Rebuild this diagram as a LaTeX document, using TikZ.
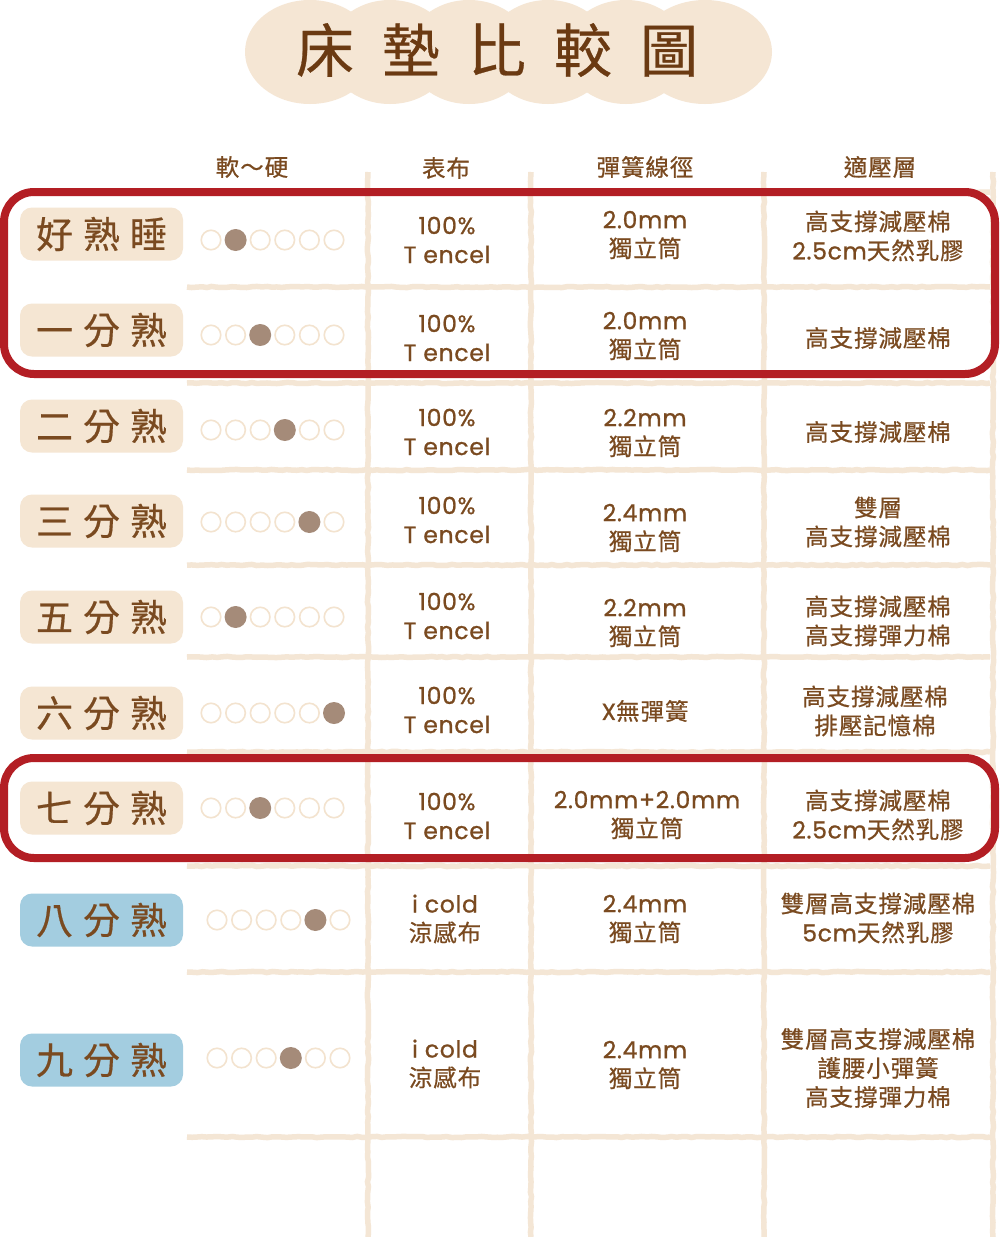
\documentclass[tikz,border=0pt]{standalone}
\usepackage{fontspec}
\usetikzlibrary{decorations.pathmorphing}
\newfontfamily\cjk{Noto Sans CJK TC}[FakeBold=0.5]
\newfontfamily\cjkc{Noto Sans CJK TC}[FakeBold=0.6,LetterSpace=4]
\newfontfamily\latn{Poppins}[FakeBold=0.9,LetterSpace=3]
\definecolor{txt}{HTML}{7A4A20}
\definecolor{ttl}{HTML}{6B3A12}
\definecolor{boxbeige}{HTML}{F5E6D3}
\definecolor{boxblue}{HTML}{A3CDE0}
\definecolor{cloudc}{HTML}{F5E6D4}
\definecolor{gridc}{HTML}{F4E6D5}
\definecolor{ringc}{HTML}{F3E3CF}
\definecolor{dotc}{HTML}{A58B79}
\definecolor{redc}{HTML}{B31E24}
\newcommand\ratingrow[4]{%
  \foreach \i in {1,...,6}{%
    \ifnum\i=#4\relax
      \node[dotfull] (#1-\i) at ({#2+(\i-1)*24.6},#3) {};
    \else
      \node[dotempty] (#1-\i) at ({#2+(\i-1)*24.6},#3) {};
    \fi}}
\tikzset{
  gridline/.style={draw=gridc, line width=5.5pt, decorate,
     decoration={random steps, segment length=5pt, amplitude=0.6pt}},
  lblbox/.style={rounded corners=12pt, minimum width=163pt, minimum height=53pt, inner sep=0pt, text=txt,
     font=\cjk\fontsize{37}{40}\selectfont},
  lblb/.style={lblbox, fill=boxbeige},
  lblu/.style={lblbox, fill=boxblue},
  dotfull/.style={circle, fill=dotc, minimum size=22pt, inner sep=0pt},
  dotempty/.style={circle, draw=ringc, line width=1.6pt, minimum size=19.5pt, inner sep=0pt},
  cell/.style={align=center, inner sep=0pt, text=txt, font=\cjkc\fontsize{23.5}{29}\selectfont},
  head/.style={inner sep=0pt, text=txt, font=\cjkc\fontsize{23.5}{28}\selectfont},
  redbox/.style={draw=redc, line width=8pt, rounded corners=30pt},
  cloud/.style={fill=cloudc},
}
\begin{document}
\begin{tikzpicture}[x=1pt,y=-1pt]
\useasboundingbox[fill=white] (0,0) rectangle (1000,1237);
% title cloud
\foreach \cx/\rx in {310/65, 390/62, 469/62, 548/62, 626/62, 705/67}{
  \fill[cloud] (\cx,52) ellipse [x radius=\rx pt, y radius=52pt];}
\node[inner sep=0pt, text=ttl, font=\cjk\fontsize{58}{64}\selectfont] (title) at (497,50)
  {床\hspace{28pt}墊\hspace{28pt}比\hspace{28pt}較\hspace{28pt}圖};
% grid
\foreach \gx in {368,531,764,993}{
  \draw[gridline] (\gx,172) -- (\gx,1237);}
\foreach \gy in {192,287,383,470,565,657,752,866,972,1137}{
  \draw[gridline] (187,\gy) -- (990,\gy);}
% headers
\node[head] (h1) at (252,167) {軟～硬};
\node[head] (h2) at (446,168) {表布};
\node[head] (h3) at (645,167) {彈簧線徑};
\node[head] (h4) at (880,167) {適壓層};
% labels
\node[lblb] (l1) at (101.5,234) {好\hspace{10pt}熟\hspace{10pt}睡};
\node[lblb] (l2) at (101.5,330) {一\hspace{10pt}分\hspace{10pt}熟};
\node[lblb] (l3) at (101.5,426) {二\hspace{10pt}分\hspace{10pt}熟};
\node[lblb] (l4) at (101.5,521) {三\hspace{10pt}分\hspace{10pt}熟};
\node[lblb] (l5) at (101.5,617) {五\hspace{10pt}分\hspace{10pt}熟};
\node[lblb] (l6) at (101.5,713) {六\hspace{10pt}分\hspace{10pt}熟};
\node[lblb] (l7) at (101.5,808) {七\hspace{10pt}分\hspace{10pt}熟};
\node[lblu] (l8) at (101.5,920) {八\hspace{10pt}分\hspace{10pt}熟};
\node[lblu] (l9) at (101.5,1060) {九\hspace{10pt}分\hspace{10pt}熟};
% ratings
\ratingrow{r1}{211}{240}{2}
\ratingrow{r2}{211}{335}{3}
\ratingrow{r3}{211}{430}{4}
\ratingrow{r4}{211}{522}{5}
\ratingrow{r5}{211}{617}{2}
\ratingrow{r6}{211}{713}{6}
\ratingrow{r7}{211}{808}{3}
\ratingrow{r8}{217}{920}{5}
\ratingrow{r9}{217}{1058}{4}
% cells: fabric
\node[cell] (a1) at (447,240) {{\latn 100\%}\\{\latn T encel}};
\node[cell] (a2) at (447,338) {{\latn 100\%}\\{\latn T encel}};
\node[cell] (a3) at (447,432) {{\latn 100\%}\\{\latn T encel}};
\node[cell] (a4) at (447,520) {{\latn 100\%}\\{\latn T encel}};
\node[cell] (a5) at (447,616) {{\latn 100\%}\\{\latn T encel}};
\node[cell] (a6) at (447,710) {{\latn 100\%}\\{\latn T encel}};
\node[cell] (a7) at (447,816) {{\latn 100\%}\\{\latn T encel}};
\node[cell] (a8) at (445,919) {{\latn i cold}\\涼感布};
\node[cell] (a9) at (445,1064) {{\latn i cold}\\涼感布};
% cells: spring
\node[cell] (b1) at (645,235) {{\latn 2.0mm}\\獨立筒};
\node[cell] (b2) at (645,336) {{\latn 2.0mm}\\獨立筒};
\node[cell] (b3) at (645,433) {{\latn 2.2mm}\\獨立筒};
\node[cell] (b4) at (645,528) {{\latn 2.4mm}\\獨立筒};
\node[cell] (b5) at (645,623) {{\latn 2.2mm}\\獨立筒};
\node[cell] (b6) at (645,711) {{\latn X}無彈簧};
\node[cell] (b7) at (647,815) {{\latn 2.0mm+2.0mm}\\獨立筒};
\node[cell] (b8) at (645,919) {{\latn 2.4mm}\\獨立筒};
\node[cell] (b9) at (645,1065) {{\latn 2.4mm}\\獨立筒};
% cells: comfort layer
\node[cell] (c1) at (878,236) {高支撐減壓棉\\{\latn 2.5cm}天然乳膠};
\node[cell] (c2) at (878,338) {高支撐減壓棉};
\node[cell] (c3) at (878,432) {高支撐減壓棉};
\node[cell] (c4) at (878,522) {雙層\\高支撐減壓棉};
\node[cell] (c5) at (878,621) {高支撐減壓棉\\高支撐彈力棉};
\node[cell] (c6) at (875,711) {高支撐減壓棉\\排壓記憶棉};
\node[cell] (c7) at (878,815) {高支撐減壓棉\\{\latn 2.5cm}天然乳膠};
\node[cell] (c8) at (878,918) {雙層高支撐減壓棉\\{\latn 5cm}天然乳膠};
\node[cell] (c9) at (878,1068) {雙層高支撐減壓棉\\護腰小彈簧\\高支撐彈力棉};
% red highlight boxes
\draw[redbox] (4,192) rectangle (995,374);
\draw[redbox] (4,758) rectangle (995,858);
\end{tikzpicture}
\end{document}
